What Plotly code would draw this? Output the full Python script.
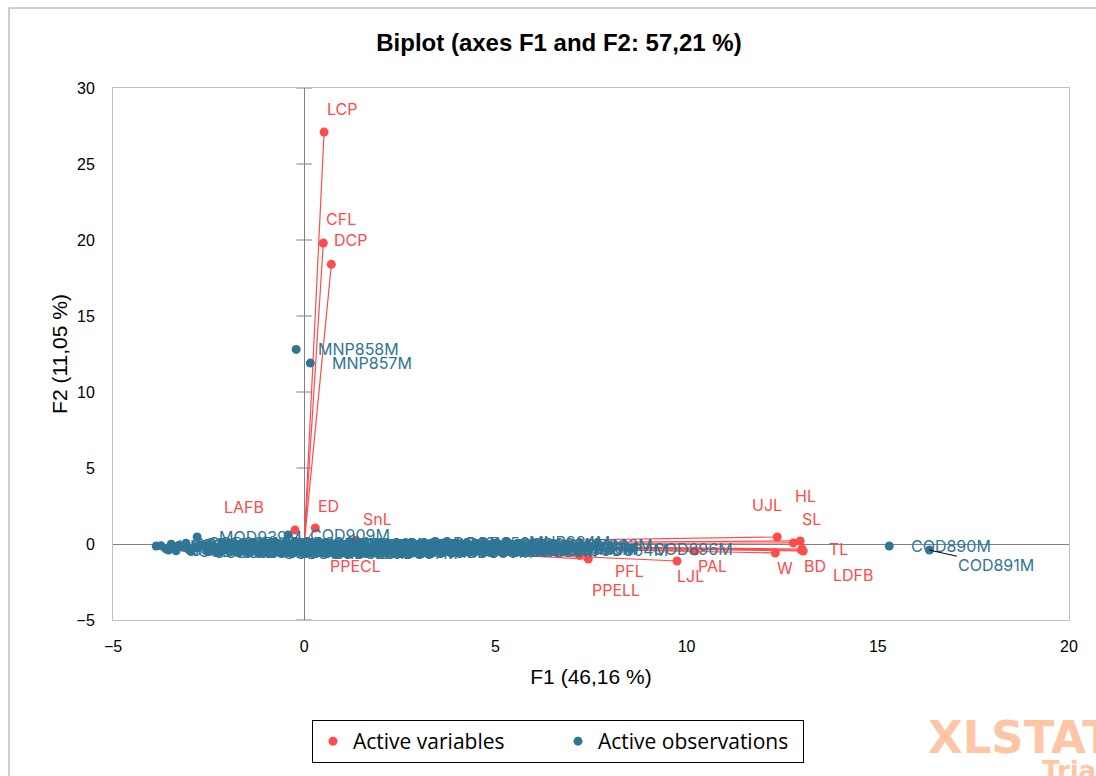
import plotly.graph_objects as go

# ---------------- data ----------------
var_names = ["LCP", "CFL", "DCP", "LAFB", "ED", "SnL", "PPECL", "UJL", "HL", "SL",
             "TL", "BD", "LDFB", "W", "PAL", "LJL", "PFL", "PPELL"]
var_f1 = [0.52, 0.50, 0.71, -0.24, 0.29, 1.35, 0.47, 12.37, 12.79, 12.97,
          13.02, 13.05, 13.00, 12.32, 10.22, 9.75, 7.43, 7.20]
var_f2 = [27.1, 19.8, 18.4, 0.92, 1.05, 0.25, -0.53, 0.46, 0.07, 0.20,
          -0.33, -0.46, -0.40, -0.59, -0.46, -1.12, -0.99, -0.75]

obs_names = ["MNP858M", "MNP857M", "COD890M", "COD891M", "MOD939M", "COD909M",
             "UNI902M", "UNI903M",
             "COD801M", "COD802M", "COD803M", "COD804M", "COD805M", "COD806M", "COD807M",
             "COD808M", "COD809M", "COD810M", "COD811M", "COD812M", "COD813M", "COD814M",
             "COD815M", "COD816M", "COD817M", "COD818M", "COD819M", "COD820M", "COD821M",
             "COD822M", "COD823M", "COD824M", "COD825M", "COD826M", "COD827M", "COD828M",
             "COD829M", "COD830M", "COD831M", "COD832M", "COD833M", "COD834M", "COD835M",
             "COD836M", "COD837M", "COD838M", "COD839M", "COD840M", "COD841M", "COD842M",
             "COD843M", "COD844M", "COD845M", "COD846M", "COD847M", "COD848M", "COD849M",
             "COD850M", "COD851M", "COD852M", "COD853M", "COD854M", "COD855M", "COD856M",
             "COD857M", "COD858M", "COD859M", "COD860M", "MNP884M", "COD861M", "COD862M",
             "COD880M", "COD863M", "COD864M", "COD896M",
             "COD865M", "COD866M", "COD867M", "COD868M", "COD869M", "COD870M", "COD871M",
             "COD872M", "COD873M", "COD874M", "COD875M", "COD876M", "COD877M", "COD878M",
             "COD879M", "COD881M", "COD882M", "COD883M", "COD885M", "COD886M", "COD887M",
             "COD888M", "COD889M", "MOD930M", "MOD931M", "MOD932M", "MOD933M", "MOD934M",
             "MOD935M", "MOD936M", "MOD937M", "MOD938M"]
obs_f1 = [-0.21, 0.16, 15.30, 16.35, -2.80, -0.42,
          -3.87, -3.74,
          -3.62, -3.48, -3.35, -3.21, -3.09, -2.96, -2.81,
          -2.66, -2.52, -2.39, -2.23, -2.10, -1.97, -1.83,
          -1.68, -1.55, -1.41, -1.27, -1.12, -0.98, -0.85,
          -0.71, -0.58, -0.44, -0.30, -0.17, -0.03, 0.11,
          0.24, 0.38, 0.52, 0.67, 0.80, 0.95, 1.08,
          1.22, 1.37, 1.51, 1.66, 1.80, 1.94, 2.09,
          2.23, 2.38, 2.53, 2.69, 2.84, 3.00, 3.15,
          3.31, 3.47, 3.62, 3.79, 3.95, 4.12, 4.30,
          4.48, 4.66, 4.85, 5.05, 5.30, 5.52, 5.78,
          6.10, 6.45, 6.85, 8.55,
          -3.55, -3.28, -3.02, -2.74, -2.46, -2.17, -1.90,
          -1.61, -1.34, -1.05, -0.78, -0.51, -0.24, 0.04,
          0.31, 0.59, 0.88, 1.15, 1.44, 1.73, 2.02,
          2.31, 2.61, 2.92, 3.23, 3.55, 3.87, 4.21,
          4.57, 4.95, 5.40, 5.95]
obs_f2 = [12.8, 11.9, -0.13, -0.40, 0.46, 0.60,
          -0.13, -0.12,
          -0.32, -0.02, -0.45, -0.18, 0.05, -0.50, -0.25,
          -0.08, -0.42, -0.15, -0.55, 0.02, -0.30, -0.20,
          -0.48, -0.05, -0.38, -0.22, -0.58, 0.04, -0.28,
          -0.44, -0.12, -0.52, -0.24, -0.03, -0.40, -0.60,
          -0.16, -0.34, 0.03, -0.47, -0.21, -0.09, -0.43,
          -0.27, -0.56, -0.06, -0.36, -0.17, -0.50, 0.01,
          -0.31, -0.14, -0.46, 0.06, -0.26, -0.39, -0.11,
          -0.53, -0.19, 0.05, -0.33, -0.13, -0.45, -0.04,
          -0.28, -0.12, -0.40, 0.00, 0.16, -0.35, -0.15,
          -0.26, -0.08, -0.38, -0.30,
          -0.40, -0.08, -0.36, -0.12, -0.47, -0.20, -0.03,
          -0.42, -0.26, -0.50, -0.10, -0.37, -0.48, -0.14,
          -0.45, -0.23, -0.52, -0.07, -0.29, -0.45, -0.18,
          -0.38, -0.09, -0.41, -0.24, -0.49, -0.07, -0.34,
          -0.17, -0.43, -0.29, -0.36]

x_ticks = [-5, 0, 5, 10, 15, 20]
y_ticks = [-5, 0, 5, 10, 15, 20, 25, 30]

# ---------------- styling ----------------
RED = "#FF4B4B"
BLUE = "#2E7596"
LABEL_FONT = "Inter, Open Sans, sans-serif"
AXIS_FONT = "Liberation Sans, Arial, sans-serif"

# pixel offsets (label centre relative to point) for the variable labels
var_label_offsets = {
    "LCP": (18, 23), "CFL": (18, 24), "DCP": (19, 24), "LAFB": (-51, 23),
    "ED": (13, 22), "SnL": (22, 21), "PPECL": (33, -14), "UJL": (-10, 32),
    "HL": (12, 47), "SL": (11, 22), "TL": (36, 0), "BD": (12, -15),
    "LDFB": (52, -25), "W": (10, -15), "PAL": (17, -15), "LJL": (13, -15),
    "PFL": (41, -12), "PPELL": (36, -35),
}

fig = go.Figure()

# tick marks drawn on the vertical zero line
fig.add_trace(go.Scatter(x=[0] * len(y_ticks), y=y_ticks, mode="markers",
                         marker=dict(symbol="line-ew", size=11, line=dict(color="#808080", width=1)),
                         showlegend=False, hoverinfo="skip"))

# vectors from origin to variables
vx, vy = [], []
for a, b in zip(var_f1, var_f2):
    vx += [0, a, None]
    vy += [0, b, None]
fig.add_trace(go.Scatter(x=vx, y=vy, mode="lines", line=dict(color=RED, width=1.2),
                         showlegend=False, hoverinfo="skip"))

fig.add_trace(go.Scatter(x=obs_f1, y=obs_f2, mode="markers", name="Active observations",
                         marker=dict(color=BLUE, size=9), text=obs_names))
fig.add_trace(go.Scatter(x=var_f1, y=var_f2, mode="markers", name="Active variables",
                         marker=dict(color=RED, size=9), text=var_names))

annotations = []
for n, a, b in zip(obs_names, obs_f1, obs_f2):
    if n == "COD891M":
        annotations.append(dict(x=a, y=b, text=n, showarrow=True, arrowhead=0, arrowwidth=1,
                                arrowcolor="#000000", ax=67, ay=15, xanchor="center",
                                font=dict(family=LABEL_FONT, size=16, color=BLUE)))
    else:
        annotations.append(dict(x=a, y=b, text=n, showarrow=False, xanchor="left",
                                yanchor="middle", xshift=20,
                                font=dict(family=LABEL_FONT, size=16, color=BLUE)))
for n, a, b in zip(var_names, var_f1, var_f2):
    dx, dy = var_label_offsets[n]
    annotations.append(dict(x=a, y=b, text=n, showarrow=False, xanchor="center",
                            yanchor="middle", xshift=dx, yshift=dy,
                            font=dict(family=LABEL_FONT, size=16, color=RED)))

# XLSTAT watermark
annotations.append(dict(xref="paper", yref="paper", x=(926 - 113) / 956, y=(620 - 737) / 532,
                        text="<b>XLSTAT</b>", showarrow=False, xanchor="left", yanchor="middle",
                        font=dict(family="DejaVu Sans, sans-serif", size=45, color="#FFC6A6")))
annotations.append(dict(xref="paper", yref="paper", x=(1040 - 113) / 956, y=(620 - 771) / 532,
                        text="<b>Tria</b>", showarrow=False, xanchor="left", yanchor="middle",
                        font=dict(family="DejaVu Sans, sans-serif", size=26, color="#FFC6A6")))

fig.update_layout(
    width=1096, height=776,
    margin=dict(l=113, r=27, t=88, b=156),
    paper_bgcolor="white", plot_bgcolor="white",
    title=dict(text="<b>Biplot (axes F1 and F2: 57,21 %)</b>", x=0.51, xref="container",
               xanchor="center", y=1 - 43 / 776, yref="container", yanchor="middle",
               font=dict(family=AXIS_FONT, size=24, color="#000000")),
    xaxis=dict(range=[-5, 20], tickvals=x_ticks, showgrid=False, zeroline=True,
               zerolinecolor="#808080", zerolinewidth=1, showline=True, linecolor="#BFBFBF",
               linewidth=1, mirror=True, ticks="outside", ticklen=12, tickcolor="rgba(0,0,0,0)",
               tickfont=dict(family=AXIS_FONT, size=16, color="#000000"),
               title=dict(text="F1 (46,16 %)", standoff=15,
                          font=dict(family=AXIS_FONT, size=21, color="#000000"))),
    yaxis=dict(range=[-5, 30], tickvals=y_ticks, showgrid=False, zeroline=True,
               zerolinecolor="#808080", zerolinewidth=1, showline=True, linecolor="#BFBFBF",
               linewidth=1, mirror=True, ticks="outside", ticklen=14, tickcolor="rgba(0,0,0,0)",
               tickfont=dict(family=AXIS_FONT, size=16, color="#000000"),
               title=dict(text="F2 (11,05 %)", standoff=3,
                          font=dict(family=AXIS_FONT, size=21, color="#000000"))),
    legend=dict(orientation="h", x=(558 - 113) / 956, xanchor="center",
                y=(620 - 720) / 532, yanchor="top", bordercolor="#000000", borderwidth=1,
                font=dict(family="Open Sans, sans-serif", size=21, color="#000000"),
                traceorder="reversed", entrywidth=200, itemclick=False),
    annotations=annotations,
    shapes=[dict(type="rect", xref="paper", yref="paper",
                 x0=(9 - 113) / 956, x1=(1110 - 113) / 956,
                 y0=(620 - 8) / 532, y1=(620 - 800) / 532,
                 line=dict(color="#BFBFBF", width=1.5), layer="below")],
)

fig.write_html("out.html")
